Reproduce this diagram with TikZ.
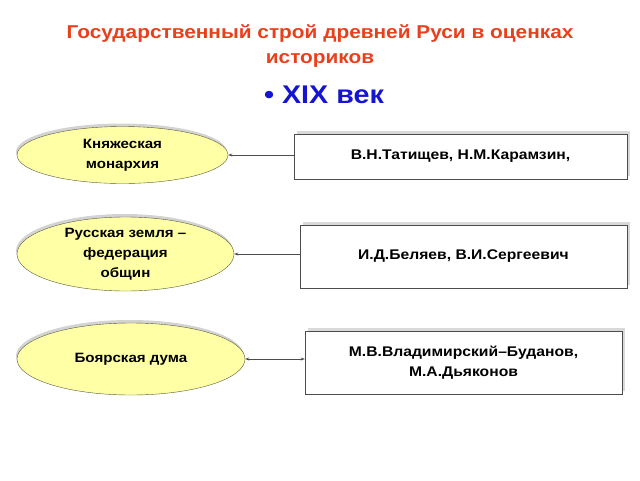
\documentclass[tikz,border=0pt]{standalone}
\usepackage{fontspec}
\setmainfont{Liberation Sans}[FakeStretch=1.12]
\usetikzlibrary{shapes.geometric,shadows,arrows.meta}
\definecolor{titulo}{RGB}{232,64,28}
\definecolor{siglo}{RGB}{20,20,210}
\definecolor{amarillo}{RGB}{255,255,165}
\definecolor{borde}{RGB}{90,90,60}
\tikzset{
  forma/.style={ellipse, draw=borde, fill=amarillo, inner sep=0pt, font=\bfseries\fontsize{13.5}{20}\selectfont, align=center,
    drop shadow={shadow xshift=-1pt, shadow yshift=3pt, opacity=0.35, fill=gray}},
  autores/.style={rectangle, draw=black!70, fill=white, inner sep=0pt, font=\bfseries\fontsize{14}{20}\selectfont, align=center,
    drop shadow={shadow xshift=3pt, shadow yshift=3pt, opacity=0.3, fill=gray}},
  flecha/.style={draw=black!70, line width=0.7pt, -{Stealth[length=4pt,width=3pt]}}
}
\begin{document}
\begin{tikzpicture}[x=1pt,y=-1pt]
    		\useasboundingbox (0,0) rectangle (640,480);
    		%titulo
    		\node[text=titulo, font=\bfseries\fontsize{18.6}{25}\selectfont, align=center] at (320,46) (titulo)
    		  {Государственный строй древней Руси в оценках\\историков};
    		\node[text=siglo, font=\bfseries\fontsize{25.6}{30}\selectfont] at (324,95) (siglo) {• XIX век};
  		%%%% FORMAS
  		\node[forma, minimum width=211, minimum height=57] at (122.5,155) (monarquia) {Княжеская\\монархия};
  		\node[forma, minimum width=217, minimum height=74] at (125.5,254) (federacion) {Русская земля –\\федерация\\общин};
  		\node[forma, minimum width=228, minimum height=72] at (131,359) (duma) {Боярская дума};
  		%%%% AUTORES
  		\node[autores, minimum width=333, minimum height=45] at (460.5,156.5) (tatischev) {В.Н.Татищев, Н.М.Карамзин,};
  		\node[autores, minimum width=327, minimum height=63] at (463.5,256.5) (beliaev) {И.Д.Беляев, В.И.Сергеевич};
  		\node[autores, minimum width=317, minimum height=63] at (463.5,362.5) (budanov) {М.В.Владимирский–Буданов,\\М.А.Дьяконов};
  		%%%% FLECHAS
  		\draw [flecha] (tatischev.west |- monarquia.east) -- (monarquia.east);
  		\draw [flecha] (beliaev.west |- federacion.east) -- (federacion.east);
  		\draw [flecha, {Stealth[length=4pt,width=3pt]}-{Stealth[length=4pt,width=3pt]}] (budanov.west |- duma.east) -- (duma.east);
		\end{tikzpicture}
\end{document}
